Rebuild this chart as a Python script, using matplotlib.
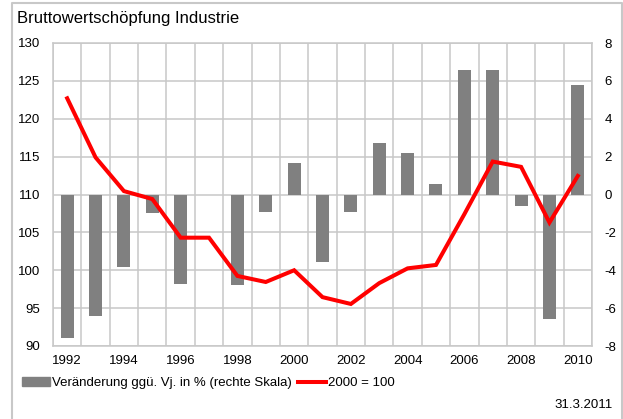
import numpy as np
import matplotlib
matplotlib.use("Agg")
import matplotlib.pyplot as plt
from matplotlib.lines import Line2D
from matplotlib.patches import Patch

plt.rcParams["font.family"] = ["Liberation Sans", "DejaVu Sans"]
plt.rcParams["axes.unicode_minus"] = False

# data
years = list(range(1992, 2011))
change_pct = [-7.6, -6.4, -3.85, -1.0, -4.7, 0.0, -4.8, -0.95, 1.65, -3.55,
              -0.93, 2.7, 2.2, 0.53, 6.6, 6.55, -0.62, -6.55, 5.8]
index_2000 = [122.7, 114.9, 110.45, 109.4, 104.3, 104.3, 99.25, 98.45, 100.0, 96.45,
              95.55, 98.3, 100.25, 100.7, 107.4, 114.35, 113.65, 106.3, 112.45]
year_labels = [str(y) if y % 2 == 0 else "" for y in years]

grid_col = "#c8c8c8"
bar_col = "#808080"
line_col = "#ff0000"

fig = plt.figure(figsize=(6.23, 4.19), dpi=100)
ax = fig.add_axes([53 / 623, 1 - 346 / 419, (592 - 53) / 623, (346 - 43) / 419])
ax2 = ax.twinx()

x = np.arange(len(years))

# bars on the right scale
ax.bar(x, change_pct, width=0.46, color=bar_col, zorder=2)
ax.set_ylim(-8, 8)
ax.set_yticks(np.arange(-8, 9, 2))
ax.set_xlim(-0.5, len(years) - 0.5)
ax.set_xticks(x)
ax.set_xticklabels(year_labels)
ax.set_xticks(np.arange(-0.5, len(years), 1), minor=True)
ax.tick_params(axis="x", which="both", length=0, labelsize=9.5, pad=6.5)
ax.grid(True, axis="x", which="minor", color=grid_col, lw=1.1, zorder=0)
ax.grid(True, axis="y", which="major", color=grid_col, lw=1.1, zorder=0)
ax.set_axisbelow(True)
for s in ax.spines.values():
    s.set_color(grid_col)
    s.set_linewidth(1.1)

# index line on the left scale
ax2.plot(x, index_2000, color=line_col, lw=2.9, solid_joinstyle="miter", zorder=3)
ax2.set_ylim(90, 130)
ax2.set_yticks(np.arange(90, 131, 5))
for s in ax2.spines.values():
    s.set_visible(False)

# swap sides: index scale left, percent scale right
ax2.yaxis.tick_left()
ax.yaxis.tick_right()
ax.tick_params(axis="y", which="both", left=False, labelleft=False, right=False,
               labelright=True, length=0, labelsize=9.5, pad=9)
ax2.tick_params(axis="y", which="both", right=False, labelright=False, left=False,
                labelleft=True, length=0, labelsize=9.5, pad=9)

fig.text(17 / 623, 1 - 18 / 419, "Bruttowertschöpfung Industrie", fontsize=12,
         va="center", ha="left")

handles = [Patch(color=bar_col), Line2D([], [], color=line_col, lw=2.9)]
labels = ["Veränderung ggü. Vj. in % (rechte Skala)", "2000 = 100"]
fig.legend(handles, labels, loc="center left", bbox_to_anchor=(22 / 623, 1 - 383 / 419),
           ncol=2, frameon=False, fontsize=9.5, handlelength=2.1, handleheight=0.7,
           handletextpad=0.15, columnspacing=0.5, borderaxespad=0, borderpad=0)

fig.text(613 / 623, 1 - 405 / 419, "31.3.2011", fontsize=9.5, ha="right", va="center")

# outer frame
fx = [11.5 / 623, 11.5 / 623, 621.5 / 623, 621.5 / 623]
fy = [0, 1 - 3 / 419, 1 - 3 / 419, 0]
fig.add_artist(Line2D(fx, fy, color=grid_col, lw=1.5, transform=fig.transFigure))

fig.savefig("out.png", dpi=100)
